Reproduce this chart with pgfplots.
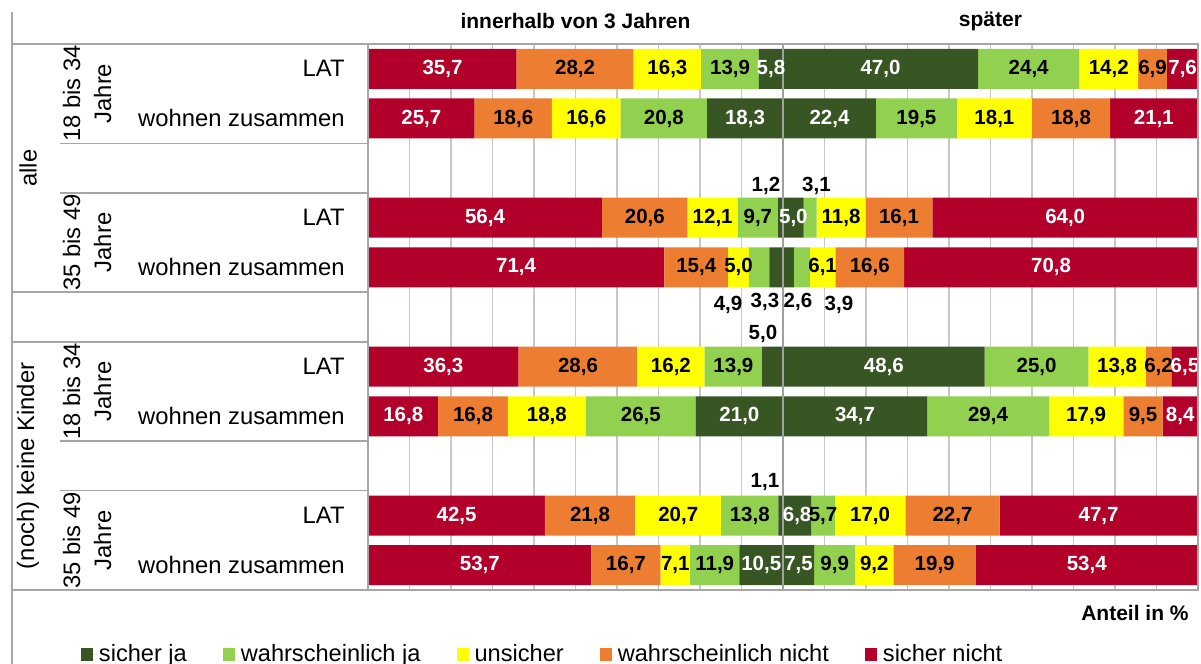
\documentclass[border=0pt]{standalone}
\usepackage{pgfplots}
\usepackage{pgfplotstable}
\pgfplotsset{compat=1.18}
\usepackage{fontspec}
\setmainfont{Liberation Sans}
\definecolor{sja}{HTML}{375623}
\definecolor{wja}{HTML}{92D050}
\definecolor{uns}{HTML}{FFFF00}
\definecolor{wn}{HTML}{ED7D31}
\definecolor{sn}{HTML}{B2002B}
\definecolor{gridc}{HTML}{C8C8C8}
\definecolor{linec}{HTML}{A6A6A6}
\definecolor{centc}{HTML}{A0A0A0}

% innerhalb von 3 Jahren (left side)
\pgfplotstableread{
y  sja  wja  uns  wn   sn
11 5.8  13.9 16.3 28.2 35.7
10 18.3 20.8 16.6 18.6 25.7
8  1.2  9.7  12.1 20.6 56.4
7  3.3  4.9  5.0  15.4 71.4
5  5.0  13.9 16.2 28.6 36.3
4  21.0 26.5 18.8 16.8 16.8
2  1.1  13.8 20.7 21.8 42.5
1  10.5 11.9 7.1  16.7 53.7
}\innen

% spaeter (right side)
\pgfplotstableread{
y  sja  wja  uns  wn   sn
11 47.0 24.4 14.2 6.9  7.6
10 22.4 19.5 18.1 18.8 21.1
8  5.0  3.1  11.8 16.1 64.0
7  2.6  3.9  6.1  16.6 70.8
5  48.6 25.0 13.8 6.2  6.5
4  34.7 29.4 17.9 9.5  8.4
2  6.8  5.7  17.0 22.7 47.7
1  7.5  9.9  9.2  19.9 53.4
}\spaeter

% small values labelled outside the bars
\pgfplotstableread{
x      y    v
-4.10  8.65 1.2
8.07   8.65 3.1
-13.25 6.25 4.9
-4.34  6.31 3.3
3.61   6.31 2.6
13.49  6.25 3.9
-4.82  5.65 5.0
-4.34  2.67 1.1
}\aussen

\pgfplotsset{
  base/.style={
    at={(0pt,0pt)}, anchor=south west,
    scale only axis, width=415pt, height=273pt,
    xmin=-100, xmax=100, ymin=0.5, ymax=11.5,
    enlarge x limits=false, enlarge y limits=false,
    clip=false,
  },
  sq/.style={legend image code/.code={\fill[##1] (0pt,-3.25pt) rectangle (6pt,3.25pt); \path (0pt,0pt) -- (8pt,0pt);}},
  lbl/.style={draw=none, mark=none, nodes near coords, point meta=explicit,
    nodes near coords={\pgfmathprintnumber[fixed,fixed zerofill,precision=1,use comma,assume math mode=true]{\pgfplotspointmeta}},
    every node near coord/.append style={anchor=center, inner sep=0pt,
      font=\bfseries\fontsize{10.25}{11}\selectfont, text=#1}},
}

\begin{document}
\begin{tikzpicture}
% left bars + grid
\begin{axis}[base, xbar stacked, bar width=20pt,
  axis line style={draw=none}, major tick length=0pt,
  xtick={-100,-90,...,100}, xticklabels={}, ytick=\empty,
  xmajorgrids, grid style={gridc, line width=0.6pt}]
\addplot[fill=sja, draw=none] table[x expr=-\thisrow{sja}, y=y] {\innen};
\addplot[fill=wja, draw=none] table[x expr=-\thisrow{wja}, y=y] {\innen};
\addplot[fill=uns, draw=none] table[x expr=-\thisrow{uns}, y=y] {\innen};
\addplot[fill=wn,  draw=none] table[x expr=-\thisrow{wn},  y=y] {\innen};
\addplot[fill=sn,  draw=none] table[x expr=-\thisrow{sn},  y=y] {\innen};
\end{axis}
% right bars + legend
\begin{axis}[base, xbar stacked, bar width=20pt, hide axis,
  legend columns=5,
  legend style={at={(-0.3458,-0.1181)}, anchor=west, draw=none, fill=none,
    inner sep=0pt, outer sep=0pt, font=\fontsize{11.8}{14}\selectfont,
    nodes={inner sep=1pt},
    /tikz/every even column/.append style={column sep=17pt}}]
\addplot[fill=sja, draw=none, sq] table[x=sja, y=y] {\spaeter};
\addplot[fill=wja, draw=none, sq] table[x=wja, y=y] {\spaeter};
\addplot[fill=uns, draw=none, sq] table[x=uns, y=y] {\spaeter};
\addplot[fill=wn,  draw=none, sq] table[x=wn,  y=y] {\spaeter};
\addplot[fill=sn,  draw=none, sq] table[x=sn,  y=y] {\spaeter};
\legend{sicher ja, wahrscheinlich ja, unsicher, wahrscheinlich nicht, sicher nicht}
\end{axis}
% centre line + value labels
\begin{axis}[base, hide axis]
\draw[centc, line width=0.7pt] (axis cs:0,0.5) -- (axis cs:0,11.5);
% left side
\addplot[lbl=white, restrict expr to domain={\thisrow{sja}}{5.5:200}]
  table[x expr={-\thisrow{sja}/2}, y=y, meta=sja] {\innen};
\addplot[lbl=black, restrict expr to domain={\thisrow{wja}}{5:200}]
  table[x expr={-(\thisrow{sja}+\thisrow{wja}/2)}, y=y, meta=wja] {\innen};
\addplot[lbl=black]
  table[x expr={-(\thisrow{sja}+\thisrow{wja}+\thisrow{uns}/2)}, y=y, meta=uns] {\innen};
\addplot[lbl=black]
  table[x expr={-(\thisrow{sja}+\thisrow{wja}+\thisrow{uns}+\thisrow{wn}/2)}, y=y, meta=wn] {\innen};
\addplot[lbl=white]
  table[x expr={-(\thisrow{sja}+\thisrow{wja}+\thisrow{uns}+\thisrow{wn}+\thisrow{sn}/2)}, y=y, meta=sn] {\innen};
% right side
\addplot[lbl=white, restrict expr to domain={\thisrow{sja}}{4:200}]
  table[x expr={\thisrow{sja}/2}, y=y, meta=sja] {\spaeter};
\addplot[lbl=black, restrict expr to domain={\thisrow{wja}}{5:200}]
  table[x expr={\thisrow{sja}+\thisrow{wja}/2}, y=y, meta=wja] {\spaeter};
\addplot[lbl=black]
  table[x expr={\thisrow{sja}+\thisrow{wja}+\thisrow{uns}/2}, y=y, meta=uns] {\spaeter};
\addplot[lbl=black]
  table[x expr={\thisrow{sja}+\thisrow{wja}+\thisrow{uns}+\thisrow{wn}/2}, y=y, meta=wn] {\spaeter};
\addplot[lbl=white]
  table[x expr={\thisrow{sja}+\thisrow{wja}+\thisrow{uns}+\thisrow{wn}+\thisrow{sn}/2}, y=y, meta=sn] {\spaeter};
% small values outside
\addplot[lbl=black] table[x=x, y=y, meta=v] {\aussen};
\end{axis}

\begin{scope}[x=0.5pt, y=-0.5pt, shift={(-368,-590)}]
  \begin{scope}[linec, line width=0.75pt]
    \draw (12,12) -- (12,664);
    \draw (12,44) -- (1198,44) -- (1198,590) -- (12,590);
    \draw (368,44) -- (368,590);
    \foreach \yy in {143.3,192.9,441.1,490.7} \draw (60,\yy) -- (368,\yy);
    \foreach \yy in {292.2,341.8} \draw (12,\yy) -- (368,\yy);
  \end{scope}
  \node[font=\bfseries\fontsize{10.5}{12}\selectfont] at (575.5,21) {innerhalb von 3 Jahren};
  \node[font=\bfseries\fontsize{10.5}{12}\selectfont] at (990.5,21) {später};
  \foreach \yy in {68.8,217.7,366.6,515.5}
    \node[anchor=east, inner sep=0pt, font=\fontsize{11.9}{14}\selectfont] at (345,\yy) {LAT};
  \foreach \yy in {118.5,267.4,416.2,565.1}
    \node[anchor=east, inner sep=0pt, font=\fontsize{11.9}{14}\selectfont] at (345,\yy) {wohnen zusammen};
  \node[rotate=90, align=center, font=\fontsize{11.9}{15.5}\selectfont] at (87,93.6) {18 bis 34\\Jahre};
  \node[rotate=90, align=center, font=\fontsize{11.9}{15.5}\selectfont] at (87,242.5) {35 bis 49\\Jahre};
  \node[rotate=90, align=center, font=\fontsize{11.9}{15.5}\selectfont] at (87,391.5) {18 bis 34\\Jahre};
  \node[rotate=90, align=center, font=\fontsize{11.9}{15.5}\selectfont] at (87,540.4) {35 bis 49\\Jahre};
  \node[rotate=90, font=\fontsize{11.9}{14}\selectfont] at (28,168.1) {alle};
  \node[rotate=90, font=\fontsize{11.9}{14}\selectfont] at (28,465.9) {(noch) keine Kinder};
  \node[anchor=east, inner sep=0pt, font=\bfseries\fontsize{10.5}{12}\selectfont] at (1189,613) {Anteil in \%};
  \pgfresetboundingbox
  \useasboundingbox (0,0) rectangle (1201,664);
\end{scope}
\end{tikzpicture}
\end{document}
